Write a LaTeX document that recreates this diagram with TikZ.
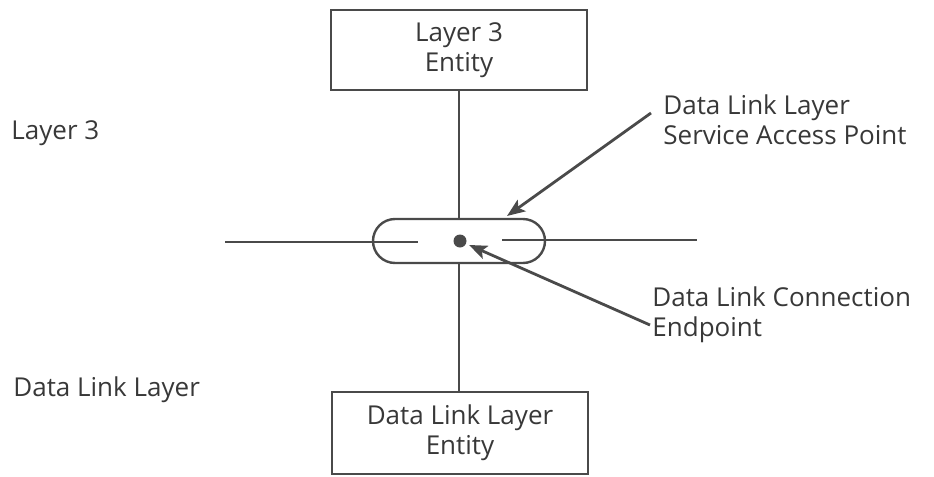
\documentclass[tikz,border=0pt]{standalone}
\usepackage{fontspec}
\setmainfont{Open Sans}
\usepackage{xcolor}
\usetikzlibrary{positioning,arrows.meta,calc}

\definecolor{ink}{HTML}{4A4A4A}
\definecolor{txt}{HTML}{383838}

\begin{document}
\begin{tikzpicture}[
  x=0.5pt, y=-0.5pt,
  font=\fontsize{13pt}{15pt}\selectfont,
  every node/.style={text=txt},
  entity/.style={draw=ink, line width=1.2pt, align=center, minimum width=128pt, minimum height=40pt, inner sep=0pt},
  sapbox/.style={draw=ink, line width=1.2pt, rounded corners=11pt, minimum width=86pt, minimum height=22pt, inner sep=0pt},
  dot/.style={circle, fill=ink, inner sep=0pt, minimum size=6.5pt},
  lbl/.style={align=left, inner sep=0pt, anchor=west},
  wire/.style={draw=ink, line width=1.2pt},
  arr/.style={draw=ink, line width=1.4pt, -{Stealth[length=9pt, width=7pt, inset=2pt]}}
]
\useasboundingbox (0,0) rectangle (934,477);
% the two entities and the access point between them
\node[entity] (l3e) at (459,50) {Layer 3\\Entity};
\node[entity, minimum height=41pt] (dle) at (460,433) {Data Link Layer\\Entity};
\node[sapbox] (sap) at (459,241) {};
\node[dot] (cep) at (460,241) {};
\draw[wire] (l3e.south) -- (sap.north);
\draw[wire] (sap.south) -- (sap.south |- dle.north);
% layer boundary
\coordinate (bw) at (225,242);
\coordinate (bwi) at (418,242);
\coordinate (bei) at (502,240);
\coordinate (be) at (697,240);
\draw[wire] (bw) -- (bwi);
\draw[wire] (bei) -- (be);
% layer names
\node[lbl] (l3) at (11,133) {Layer 3};
\node[lbl] (dll) at (13,390) {Data Link Layer};
% callouts
\node[lbl] (sapl) at (663,120) {Data Link Layer\\Service Access Point};
\node[lbl] (cepl) at (652,315) {Data Link Connection\\Endpoint};
\coordinate (sapt) at (651,113);
\coordinate (cept) at (650,325);
\draw[arr] (sapt) -- (507,216);
\draw[arr, shorten >=1.5pt] (cept) -- (cep);
\end{tikzpicture}
\end{document}
